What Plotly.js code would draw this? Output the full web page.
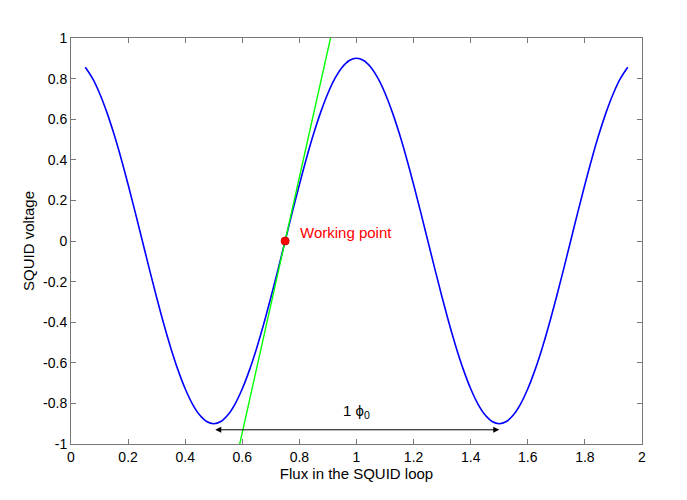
<!DOCTYPE html>
<html>
<head>
<meta charset="utf-8">
<script src="https://cdn.plot.ly/plotly-3.0.1.min.js"></script>
<style>html,body{margin:0;padding:0;background:#fff;}#plot{width:687px;height:500px;}</style>
</head>
<body>
<div id="plot"></div>
<script>
// SQUID voltage curve
const fluxX = [0.05,0.075,0.1,0.125,0.15,0.175,0.2,0.225,0.25,0.275,0.3,0.325,0.35,0.375,0.4,0.425,0.45,0.475,
  0.5,0.525,0.55,0.575,0.6,0.625,0.65,0.675,0.7,0.725,0.75,0.775,0.8,0.825,0.85,0.875,0.9,0.925,0.95,0.975,
  1.0,1.025,1.05,1.075,1.1,1.125,1.15,1.175,1.2,1.225,1.25,1.275,1.3,1.325,1.35,1.375,1.4,1.425,1.45,1.475,
  1.5,1.525,1.55,1.575,1.6,1.625,1.65,1.675,1.7,1.725,1.75,1.775,1.8,1.825,1.85,1.875,1.9,1.925,1.95];
const voltageY = [0.856,0.802,0.728,0.636,0.529,0.409,0.278,0.141,0,-0.141,-0.278,-0.409,-0.529,-0.636,-0.728,-0.802,-0.856,-0.889,
  -0.9,-0.889,-0.856,-0.802,-0.728,-0.636,-0.529,-0.409,-0.278,-0.141,0,0.141,0.278,0.409,0.529,0.636,0.728,0.802,0.856,0.889,
  0.9,0.889,0.856,0.802,0.728,0.636,0.529,0.409,0.278,0.141,0,-0.141,-0.278,-0.409,-0.529,-0.636,-0.728,-0.802,-0.856,-0.889,
  -0.9,-0.889,-0.856,-0.802,-0.728,-0.636,-0.529,-0.409,-0.278,-0.141,0,0.141,0.278,0.409,0.529,0.636,0.728,0.802,0.856];
// tangent line at the working point
const tangentX = [0.575, 0.925];
const tangentY = [-1.1, 1.1];
// working point
const workX = [0.75];
const workY = [0];
// flux quantum arrow
const arrowX = [0.5, 1.5];
const arrowY = [-0.93, -0.93];

const xTicks = [0,0.2,0.4,0.6,0.8,1,1.2,1.4,1.6,1.8,2];
const xTickText = ["0","0.2","0.4","0.6","0.8","1","1.2","1.4","1.6","1.8","2"];
const yTicks = [-1,-0.8,-0.6,-0.4,-0.2,0,0.2,0.4,0.6,0.8,1];
const yTickText = ["-1","-0.8","-0.6","-0.4","-0.2","0","0.2","0.4","0.6","0.8","1"];

const FONT = "Liberation Sans, Arial, Helvetica, sans-serif";

const traces = [
  {x: fluxX, y: voltageY, mode: "lines", line: {color: "#0000ff", width: 1.6, shape: "spline"}, hoverinfo: "skip"},
  {x: tangentX, y: tangentY, mode: "lines", line: {color: "#00ff00", width: 1.4}, hoverinfo: "skip"},
  {x: workX, y: workY, mode: "markers", marker: {color: "#ff0000", size: 8, line: {color: "#cc0000", width: 1}}, hoverinfo: "skip"}
];

const axisCommon = {
  showgrid: false, zeroline: false, showline: true, mirror: "ticks",
  linecolor: "#777777", linewidth: 1, ticks: "inside", ticklen: 5, tickcolor: "#777777",
  tickfont: {family: FONT, size: 14, color: "#000"}, fixedrange: true
};

const layout = {
  width: 687, height: 500,
  margin: {l: 71, r: 45, t: 38, b: 56},
  paper_bgcolor: "#fff", plot_bgcolor: "#fff",
  showlegend: false,
  font: {family: FONT, size: 14, color: "#000"},
  xaxis: Object.assign({}, axisCommon, {
    range: [0, 2], tickmode: "array", tickvals: xTicks, ticktext: xTickText,
    title: {text: "Flux in the SQUID loop", font: {family: FONT, size: 15, color: "#000"}, standoff: 2}
  }),
  yaxis: Object.assign({}, axisCommon, {
    range: [-1, 1], tickmode: "array", tickvals: yTicks, ticktext: yTickText,
    title: {text: "SQUID voltage", font: {family: FONT, size: 15, color: "#000"}, standoff: 4}
  }),
  annotations: [
    {x: arrowX[1], y: arrowY[1], ax: arrowX[0], ay: arrowY[0], xref: "x", yref: "y", axref: "x", ayref: "y",
     text: "", showarrow: true, arrowhead: 2, startarrowhead: 2, arrowside: "end+start",
     arrowsize: 1.2, startarrowsize: 1.2, arrowwidth: 1, arrowcolor: "#000"},
    {x: 1.0, y: -0.84, xref: "x", yref: "y", text: "1 ϕ<sub>0</sub>", showarrow: false,
     font: {family: FONT, size: 15, color: "#000"}},
    {x: 0.795, y: 0.04, xref: "x", yref: "y", xanchor: "left", text: "Working point", showarrow: false,
     font: {family: FONT, size: 15, color: "#ff0000"}}
  ]
};

Plotly.newPlot("plot", traces, layout, {staticPlot: true, displayModeBar: false});
</script>
</body>
</html>
